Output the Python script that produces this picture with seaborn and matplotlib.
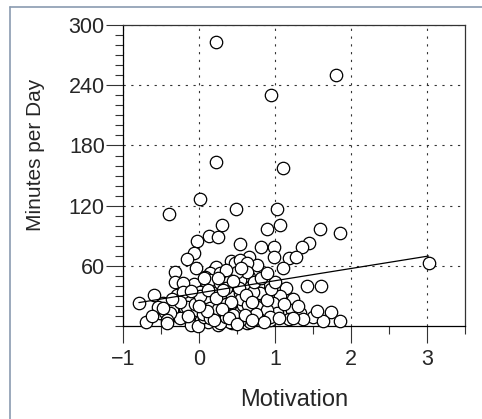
import matplotlib
matplotlib.use("Agg")
import matplotlib.pyplot as plt
from matplotlib.lines import Line2D
from matplotlib.ticker import MultipleLocator
import seaborn as sns
import pandas as pd

motivation = [
    0.22, 1.80, 0.95, 0.23, 1.11, 0.01, -0.39, 0.49, 1.02, 0.30, 1.06, 0.89, 1.59, 1.86,
    0.13, 0.25, -0.03, 0.54, 0.82, 0.99, 1.45, 1.35, -0.07, -0.16, 0.99, 1.18, 1.27, 0.66,
    0.42, 0.76, -0.04, 0.23, 1.11, -0.31, 3.02, 0.14, 0.45, 0.66, -0.32, -0.07, 1.42, 1.61,
    1.15, 0.78, 0.41, 0.19, -0.59, -0.29, -0.79, -0.47, 0.06, 0.50, 0.85, 1.07, 1.24, -0.70,
    -0.51, 1.22, 1.33, 1.50, 1.74, 1.86, 1.63, 1.18, 1.37,
    -0.45, -0.32, -0.18, -0.12, 0.08, 0.06, -0.05, 0.03, -0.10, 0.19, 0.21, 0.23, 0.19,
    0.34, 0.34, 0.39, 0.34, 0.47, 0.52, 0.47, 0.54, 0.12, 0.25, 0.43, -0.36, -0.54,
    0.63, 0.98, 1.24, 0.80, 0.87, 0.63, 0.67, 0.71, 0.58, 0.80, 0.63, 0.93, 0.58, 1.02,
    -0.12, 0.01, 0.10, 0.32, 0.43, 0.54, 0.71, 0.76, 0.89, 0.93, 0.80, 0.67, 0.54, 0.41,
    0.28, -0.01, -0.25, -0.38, -0.47, -0.16, -0.03, 0.14, 0.28, 0.41, 0.54, 0.67, 0.14,
    0.28, 0.36, 0.54, 0.63, 0.50, 0.28, 0.06, -0.21, -0.21, 0.67, 0.36, 0.06, 0.58, 0.89,
    0.36,
    0.05, 0.15, 0.25, 0.35, 0.45, 0.55, 0.65, 0.75, 0.85, -0.05, -0.15, -0.25, -0.35, -0.42,
    0.02, 0.12, 0.22, 0.32, 0.42, 0.52, 0.62, 0.72, 0.82, 0.30, 0.40, 0.50, 0.60, 0.70,
    0.20, 0.10, 0.00, -0.10, 0.45, 0.35, 0.25, 0.55, 0.70, 0.95, 1.00, 0.90,
    1.30, 1.55, 1.12, 1.05, -0.62, -0.42,
]
minutes = [
    283, 250, 230, 164, 158, 127, 112, 117, 117, 101, 101, 97, 97, 93,
    90, 89, 85, 82, 79, 79, 83, 79, 73, 67, 69, 68, 69, 69,
    65, 61, 58, 59, 58, 54, 63, 53, 50, 49, 44, 42, 40, 40,
    38, 40, 43, 39, 31, 31, 23, 23, 23, 24, 31, 30, 27, 4,
    13, 16, 13, 9, 14, 5, 5, 7, 7,
    14, 11, 18, 26, 49, 36, 14, 6, 1, 43, 33, 23, 13,
    53, 31, 21, 9, 63, 49, 33, 66, 4, 1, 3, 16, 19,
    63, 23, 8, 33, 23, 39, 26, 13, 19, 9, 3, 6, 49, 13,
    29, 34, 29, 26, 29, 33, 34, 19, 16, 9, 6, 4, 6, 4,
    3, 0, 8, 13, 18, 19, 16, 18, 14, 18, 14, 16, 46,
    43, 49, 46, 54, 54, 53, 48, 43, 34, 9, 9, 9, 21, 26,
    38,
    12, 8, 17, 22, 11, 27, 21, 12, 4, 22, 10, 24, 27, 6,
    30, 36, 28, 36, 24, 38, 31, 44, 48, 17, 8, 2, 11, 6,
    6, 15, 20, 35, 45, 56, 48, 58, 24, 37, 44, 53,
    20, 15, 22, 8, 10, 3,
]
x_ticks = [-1, 0, 1, 2, 3]
x_tick_labels = ["\u22121", "0", "1", "2", "3"]
y_ticks = [60, 120, 180, 240, 300]

df = pd.DataFrame({"Motivation": motivation, "Minutes per Day": minutes})

sns.set_style("white")
plt.rcParams["font.family"] = ["Liberation Sans", "DejaVu Sans"]

fig = plt.figure(figsize=(4.82, 4.19), dpi=100)
ax = fig.add_axes([0.255, 0.222, 0.710, 0.718])

sns.regplot(
    data=df, x="Motivation", y="Minutes per Day", ax=ax, ci=None, truncate=True,
    scatter_kws=dict(s=80, facecolor="white", edgecolor="black", linewidths=0.9,
                     alpha=1, clip_on=False, zorder=3),
    line_kws=dict(color="black", linewidth=0.9, zorder=4),
)

ax.set_xlim(-1, 3.5)
ax.set_ylim(0, 300)
ax.set_xticks(x_ticks)
ax.set_xticklabels(x_tick_labels)
ax.set_yticks(y_ticks)
ax.xaxis.set_minor_locator(MultipleLocator(0.5))
ax.yaxis.set_minor_locator(MultipleLocator(10))

ax.grid(True, which="major", color="#333333", linestyle=(0, (2, 5)), linewidth=0.8)
ax.set_axisbelow(True)

ax.tick_params(axis="both", which="major", direction="out", length=12, width=0.8,
               color="#333333", labelsize=15.5, bottom=True, left=True)
ax.tick_params(axis="y", which="major", pad=1)
ax.tick_params(axis="x", which="major", pad=4.5)
ax.tick_params(axis="both", which="minor", direction="out", length=5.5, width=0.8,
               color="#333333", bottom=True, left=True)

for sp in ax.spines.values():
    sp.set_visible(True)
    sp.set_color("#333333")
    sp.set_linewidth(0.9)
ax.spines["bottom"].set_color("black")
ax.spines["left"].set_color("black")

ax.set_xlabel("Motivation", fontsize=17)
ax.set_ylabel("Minutes per Day", fontsize=15)
ax.xaxis.set_label_coords(0.5, -0.21)
ax.yaxis.set_label_coords(-0.228, 0.57)

border = "#8a9bb0"
fig.add_artist(Line2D([10 / 482, 1], [1 - 7 / 419, 1 - 7 / 419], color=border, linewidth=1.2,
                      transform=fig.transFigure))
fig.add_artist(Line2D([10 / 482, 10 / 482], [0, 1 - 7 / 419], color=border, linewidth=1.2,
                      transform=fig.transFigure))

fig.savefig("out.png", dpi=100)
